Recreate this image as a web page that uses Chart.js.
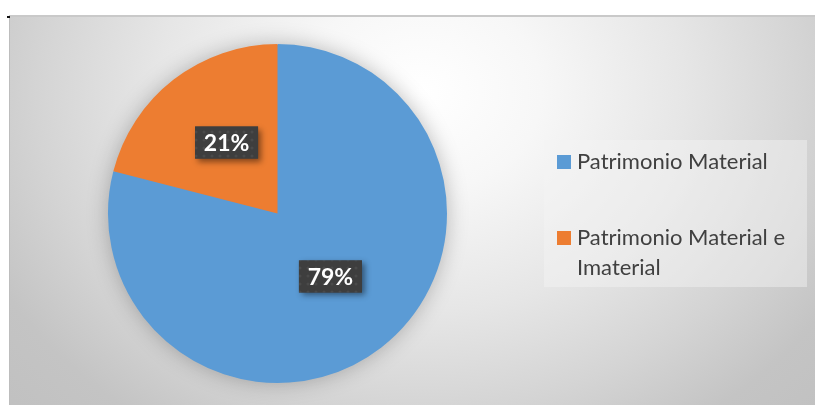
<!DOCTYPE html>
<html>
<head>
<meta charset="utf-8">
<script src="https://cdn.jsdelivr.net/npm/chart.js@4/dist/chart.umd.min.js"></script>
<style>
  html, body { margin: 0; padding: 0; background: #fff; }
  #wrap { position: relative; width: 815px; height: 405px; overflow: hidden; }
  #bg {
    position: absolute; left: 9px; top: 15px; width: 806px; height: 390px;
    background: radial-gradient(480px 400px at 411px 75px, #ffffff 0%, #f7f7f7 25%, #e6e6e6 55%, #d4d4d4 80%, #c4c4c4 100%, #bebebe 130%);
    border-top: 2px solid #c9c9c9; box-sizing: border-box;
    border-left: 1px solid #bdbdbd;
  }
  #mark { position: absolute; left: 7px; top: 16px; width: 3px; height: 2px; background: #111; }
  #chart { position: absolute; left: 0; top: 0; }
  #legend {
    position: absolute; left: 544px; top: 140px; width: 263px; height: 147px;
    background: rgba(245,245,245,0.45);
    font-family: Lato, "Open Sans", sans-serif; font-size: 22px; color: #404040;
  }
  .item { position: absolute; left: 13px; padding-left: 20px; line-height: 30px; width: 232px; }
  .sw { position: absolute; left: 0; top: 9px; width: 14px; height: 14px; }
</style>
</head>
<body>
<div id="wrap">
  <div id="bg"></div>
  <div id="mark"></div>
  <canvas id="chart" width="815" height="405"></canvas>
  <div id="legend"></div>
</div>
<script>
const categories = ['Patrimonio Material', 'Patrimonio Material e Imaterial'];
const shares = [79, 21];
const colors = ['#5b9bd5', '#ed7d31'];
const pctLabels = ['79%', '21%'];

// legend built from the data
const legend = document.getElementById('legend');
const legendTops = [6, 82];
categories.forEach((c, i) => {
  const d = document.createElement('div');
  d.className = 'item';
  d.style.top = legendTops[i] + 'px';
  d.innerHTML = '<span class="sw" style="background:' + colors[i] + '"></span>' + c;
  legend.appendChild(d);
});

// dotted dark pattern for label boxes
function makePattern(ctx) {
  const p = document.createElement('canvas');
  p.width = 8; p.height = 8;
  const pc = p.getContext('2d');
  pc.fillStyle = '#3e3e3e';
  pc.fillRect(0, 0, 8, 8);
  pc.fillStyle = '#4a4a4a';
  pc.beginPath();
  pc.arc(4, 4, 1.6, 0, Math.PI * 2);
  pc.fill();
  return ctx.createPattern(p, 'repeat');
}

const pieShadow = {
  id: 'pieShadow',
  beforeDatasetsDraw(chart) {
    const arc = chart.getDatasetMeta(0).data[0];
    if (!arc) return;
    const ctx = chart.ctx;
    ctx.save();
    ctx.shadowColor = 'rgba(0,0,0,0.28)';
    ctx.shadowBlur = 22;
    ctx.fillStyle = colors[0];
    ctx.beginPath();
    ctx.arc(arc.x, arc.y, arc.outerRadius - 1, 0, Math.PI * 2);
    ctx.fill();
    ctx.restore();
  }
};

const boxLabels = {
  id: 'boxLabels',
  afterDatasetsDraw(chart) {
    const ctx = chart.ctx;
    const pat = makePattern(ctx);
    chart.getDatasetMeta(0).data.forEach((arc, i) => {
      const pt = arc.getCenterPoint();
      const w = 63, h = 32;
      const x = pt.x - w / 2 + 1, y = pt.y - h / 2 - 4;
      ctx.save();
      ctx.shadowColor = 'rgba(0,0,0,0.45)';
      ctx.shadowBlur = 6;
      ctx.shadowOffsetX = 3;
      ctx.shadowOffsetY = 3;
      ctx.fillStyle = '#3e3e3e';
      ctx.fillRect(x, y, w, h);
      ctx.restore();
      ctx.save();
      ctx.fillStyle = pat;
      ctx.fillRect(x, y, w, h);
      ctx.fillStyle = '#ffffff';
      ctx.font = 'bold 23px Lato, "Open Sans", sans-serif';
      ctx.textAlign = 'center';
      ctx.textBaseline = 'middle';
      ctx.fillText(pctLabels[i], x + w / 2, y + h / 2 + 1);
      ctx.restore();
    });
  }
};

new Chart(document.getElementById('chart'), {
  type: 'pie',
  data: {
    labels: categories,
    datasets: [{
      data: shares,
      backgroundColor: colors,
      borderWidth: 0
    }]
  },
  options: {
    responsive: false,
    animation: false,
    layout: { padding: { left: 108, right: 368, top: 44, bottom: 22 } },
    plugins: {
      legend: { display: false },
      tooltip: { enabled: false }
    }
  },
  plugins: [pieShadow, boxLabels]
});
</script>
</body>
</html>
